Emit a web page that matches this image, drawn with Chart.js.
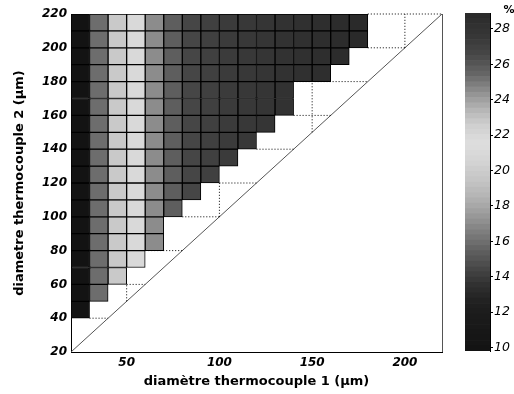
<!DOCTYPE html>
<html>
<head>
<meta charset="utf-8">
<script src="https://cdn.jsdelivr.net/npm/chart.js@4.4.0/dist/chart.umd.min.js"></script>
<style>
html,body{margin:0;padding:0;background:#fff;}
#wrap{position:relative;width:514px;height:394px;}
#grafico{position:absolute;left:0;top:0;}
#barra{position:absolute;left:440px;top:0;}
</style>
</head>
<body>
<div id="wrap">
<canvas id="grafico" width="514" height="394"></canvas>
<canvas id="barra" width="74" height="394"></canvas>
</div>
<script>
// debut de chaque colonne (diametre 1) et de chaque rangee (diametre 2), pas de 10 um
const colonnes = [20,30,40,50,60,70,80,90,100,110,120,130,140,150,160,170]
const rangees = [210,200,190,180,170,160,150,140,130,120,110,100,90,80,70,60,50,40]

// valeurs en %, une ligne par rangee (de haut en bas), colonnes de gauche a droite
const valeurs = [
  [9.9,15.9,19.7,21.0,24.5,25.7,26.6,27.0,27.3,27.5,27.8,28.1,28.3,28.5,28.7,28.9],
  [9.9,15.9,19.7,21.0,24.5,25.7,26.6,27.0,27.3,27.5,27.8,28.1,28.3,28.5,28.7,28.9],
  [9.9,15.9,19.7,21.0,24.5,25.7,26.6,27.0,27.3,27.5,27.8,28.1,28.3,28.5,28.7],
  [9.9,15.9,19.7,21.0,24.5,25.7,26.6,27.0,27.3,27.5,27.8,28.1,28.3,28.5],
  [9.9,15.9,19.7,21.0,24.5,25.7,26.6,27.0,27.3,27.5,27.8,28.1],
  [9.9,15.9,19.7,21.0,24.5,25.7,26.6,27.0,27.3,27.5,27.8,28.1],
  [9.9,15.9,19.7,21.0,24.5,25.7,26.6,27.0,27.3,27.5,27.8],
  [9.9,15.9,19.7,21.0,24.5,25.7,26.6,27.0,27.3,27.5],
  [9.9,15.9,19.7,21.0,24.5,25.7,26.6,27.0,27.3],
  [9.9,15.9,19.7,21.0,24.5,25.7,26.6,27.0],
  [9.9,15.9,19.7,21.0,24.5,25.7,26.6],
  [9.9,15.9,19.7,21.0,24.5,25.7],
  [9.9,15.9,19.7,21.0,24.5],
  [9.9,15.9,19.7,21.0,24.5],
  [9.9,15.9,19.7,21.0],
  [9.9,15.9,19.7],
  [9.9,15.9],
  [9.9]
]

const xTicks = [50,100,150,200]
const yTicks = [20,40,60,80,100,120,140,160,180,200,220]
const cbTicks = [10,12,14,16,18,20,22,24,26,28]
const cbMin = 9.8
const cbMax = 28.9

const diagonale = [{x:20,y:20},{x:220,y:220}]
// traits pointilles [x1,y1,x2,y2]
const pointilles = [
  [30,40,40,40],
  [50,60,60,60],[50,50,50,60],
  [60,80,80,80],
  [80,100,100,100],[100,100,100,120],[100,120,120,120],
  [120,140,140,140],
  [140,160,160,160],[150,150,150,180],[140,180,180,180],
  [180,200,200,200],[200,200,200,220],[180,220,220,220]
]

// palette (valeur -> niveau de gris)
const cmapV = [9.8,10.5,11.5,12.5,13.5,14.5,15.5,16.5,17.5,18.5,19.5,20.5,21.5,22.5,23.5,24.5,25.5,26.5,27.5,28.5,28.9]
const cmapG = [18,22,26,32,48,72,98,126,155,180,198,212,222,208,178,140,100,72,56,46,42]

function gris(v){
  let i = 0
  while(i < cmapV.length-2 && v > cmapV[i+1]) i++
  let t = (v-cmapV[i])/(cmapV[i+1]-cmapV[i])
  t = Math.max(0, Math.min(1, t))
  const g = Math.round(cmapG[i] + t*(cmapG[i+1]-cmapG[i]))
  return 'rgb('+g+','+g+','+g+')'
}

const tickFont = {family:'DejaVu Sans', size:12, style:'italic', weight:'bold'}
const titleFont = {family:'DejaVu Sans', size:13, weight:'bold'}

let dsCellules = rangees.map((r,k)=>({
  type:'bar',
  data: valeurs[k].map((v,i)=>({x:colonnes[i]+5, y:[r, r+10]})),
  backgroundColor: valeurs[k].map(gris),
  borderColor:'#000',
  borderWidth:1,
  borderSkipped:false,
  grouped:false,
  barPercentage:1,
  categoryPercentage:1,
  order:0
}))

let dataPointilles = []
pointilles.forEach(s=>{
  dataPointilles.push({x:s[0],y:s[1]},{x:s[2],y:s[3]},{x:s[2],y:null})
})

const cadre = {
  id:'cadre',
  beforeDatasetsDraw(chart){
    const ctx = chart.ctx
    const xs = chart.scales.x, ys = chart.scales.y
    const px = Math.round(xs.getPixelForValue(220))+0.5
    ctx.save()
    ctx.strokeStyle = '#555'
    ctx.lineWidth = 1
    ctx.beginPath()
    ctx.moveTo(px, ys.getPixelForValue(220))
    ctx.lineTo(px, ys.getPixelForValue(20))
    ctx.stroke()
    ctx.restore()
  }
}

let grafico = new Chart(document.getElementById('grafico'), {
  type:'bar',
  data:{
    datasets:[
      ...dsCellules,
      {type:'line', data:dataPointilles, borderColor:'#000', borderWidth:1, borderDash:[1,2],
       pointRadius:0, spanGaps:false, clip:false, order:1},
      {type:'line', data:diagonale, borderColor:'#555', borderWidth:1, pointRadius:0, clip:false, order:2}
    ]
  },
  options:{
    responsive:false,
    animation:false,
    layout:{padding:{left:0,right:72,top:14,bottom:0}},
    plugins:{legend:{display:false}, tooltip:{enabled:false}},
    scales:{
      x:{
        type:'linear', min:20, max:220, offset:false,
        grid:{display:false, drawTicks:false},
        border:{display:true, color:'#000'},
        afterBuildTicks: s => { s.ticks = xTicks.map(v=>({value:v})) },
        afterFit: s => { s.height = 42 },
        ticks:{font:tickFont, color:'#000', padding:4, maxRotation:0, autoSkip:false},
        title:{display:true, text:'diamètre thermocouple 1 (μm)', font:titleFont, color:'#000', padding:{top:0,bottom:5}}
      },
      y:{
        type:'linear', min:20, max:220,
        grid:{display:false, drawTicks:false},
        border:{display:true, color:'#000'},
        afterBuildTicks: s => { s.ticks = yTicks.map(v=>({value:v})) },
        afterFit: s => { s.width = 71 },
        ticks:{font:tickFont, color:'#000', padding:4, autoSkip:false},
        title:{display:true, text:'diametre thermocouple 2 (μm)', font:titleFont, color:'#000', padding:{top:12,bottom:0}}
      }
    }
  },
  plugins:[cadre]
})

// barre de couleurs
let bandes = []
const nb = 64
for(let i=0;i<nb;i++){
  const lo = cbMin + i*(cbMax-cbMin)/nb
  const hi = cbMin + (i+1)*(cbMax-cbMin)/nb
  bandes.push({data:[[lo,hi]], backgroundColor:gris((lo+hi)/2), borderWidth:0,
    grouped:false, barPercentage:1, categoryPercentage:1})
}

const pourcent = {
  id:'pourcent',
  afterDraw(chart){
    const ctx = chart.ctx
    ctx.save()
    ctx.font = 'bold 11px "DejaVu Sans"'
    ctx.fillStyle = '#000'
    ctx.textAlign = 'center'
    ctx.textBaseline = 'middle'
    ctx.fillText('%', chart.chartArea.right + 19, 10)
    ctx.restore()
  }
}

let barra = new Chart(document.getElementById('barra'), {
  type:'bar',
  data:{labels:[''], datasets:bandes},
  options:{
    responsive:false,
    animation:false,
    layout:{padding:{left:25,right:0,top:13,bottom:43}},
    plugins:{legend:{display:false}, tooltip:{enabled:false}},
    scales:{
      x:{display:false},
      y:{
        position:'right', min:cbMin, max:cbMax,
        grid:{display:true, drawOnChartArea:false, drawTicks:true, tickLength:3, color:'#000'},
        border:{display:true, color:'#000'},
        afterBuildTicks: s => { s.ticks = cbTicks.map(v=>({value:v})) },
        afterFit: s => { s.width = 24 },
        ticks:{font:{family:'DejaVu Sans', size:12.5, style:'italic'}, color:'#000', padding:1}
      }
    }
  },
  plugins:[pourcent]
})
</script>
</body>
</html>
